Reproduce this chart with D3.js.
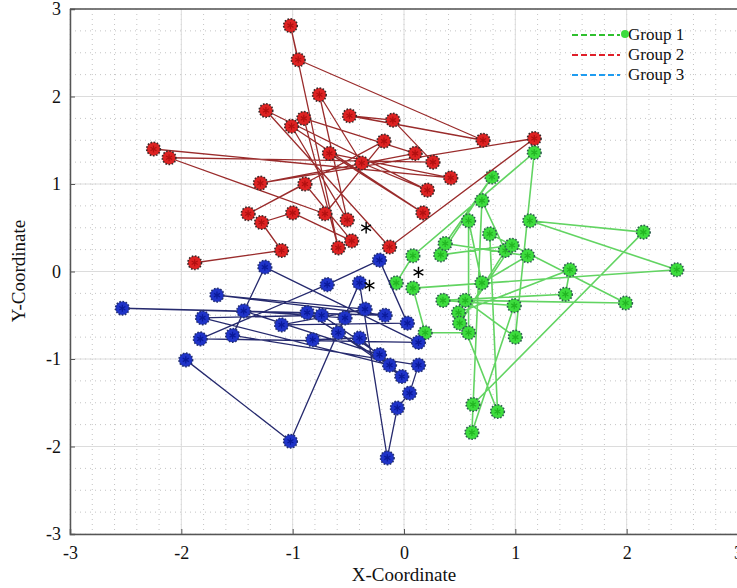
<!DOCTYPE html>
<html>
<head>
<meta charset="utf-8">
<script src="https://cdn.jsdelivr.net/npm/d3@7"></script>
<style>
  body { margin: 0; background: #fff; }
  text { font-family: "Liberation Serif", "Times New Roman", serif; }
</style>
</head>
<body>
<script>
// group 1 (green), in drawing order
var g1X = [-0.07,0.08,1.17,1.00,0.55,1.99,0.77,0.84,0.49,1.49,1.45,0.35,0.99,0.61,0.70,0.91,0.50,0.97,0.33,0.79,0.37,1.11,0.70,0.58,0.58,0.19,0.08,2.45,1.13,2.15,0.62];
var g1Y = [-0.13,0.18,1.36,-0.75,-0.33,-0.36,0.43,-1.60,-0.47,0.02,-0.26,-0.33,-0.39,-1.84,0.81,0.24,-0.59,0.30,0.19,1.08,0.32,0.18,-0.13,0.58,-0.70,-0.70,-0.19,0.02,0.58,0.45,-1.52];
// group 2 (red)
var g2X = [-2.25,0.42,-0.67,0.17,-1.01,-0.51,-0.76,-0.38,0.21,-1.24,-0.13,1.17,-1.29,0.10,-0.90,-0.59,-1.02,-0.95,0.71,-0.49,-0.10,0.26,-2.11,-0.71,-0.18,-1.40,-0.89,-0.47,-1.00,-1.28,-1.10,-1.88];
var g2Y = [1.40,1.07,1.35,0.67,1.66,0.59,2.02,1.24,0.93,1.84,0.28,1.52,1.01,1.35,1.75,0.27,2.81,2.42,1.50,1.78,1.73,1.25,1.30,0.66,1.49,0.66,1.00,0.35,0.67,0.56,0.24,0.10];
// group 3 (blue)
var g3X = [-1.96,-1.02,-0.40,-0.15,-0.06,0.05,0.13,-1.54,-1.25,0.13,-1.83,-0.69,-0.22,0.03,-1.10,-0.35,-1.68,-0.17,-2.53,-0.87,-0.13,-1.81,-0.74,-0.22,-1.44,-0.53,-0.59,-0.02,-0.40,-0.82];
var g3Y = [-1.01,-1.94,-0.13,-2.13,-1.56,-1.39,-1.07,-0.73,0.05,-0.81,-0.77,-0.15,0.13,-0.59,-0.61,-0.43,-0.27,-0.50,-0.42,-0.47,-1.07,-0.53,-0.50,-0.95,-0.45,-0.53,-0.70,-1.20,-0.76,-0.78];
// centres (black stars)
var centerX = [-0.34,-0.31,0.13];
var centerY = [0.50,-0.16,-0.01];

var xTicks = [-3,-2,-1,0,1,2,3];
var yTicks = [-3,-2,-1,0,1,2,3];
var legendLabels = ["Group 1","Group 2","Group 3"];

var w = 737, h = 588;
var plotL = 70, plotR = 738, plotT = 9, plotB = 534;

var svg = d3.select("body").append("svg")
  .attr("width", w).attr("height", h);

var x = d3.scaleLinear().domain([-3,3]).range([plotL,plotR]);
var y = d3.scaleLinear().domain([-3,3]).range([plotB,plotT]);

// minor grid (dotted)
var minorX = d3.range(-3, 3.001, 0.2);
var minorY = d3.range(-3, 3.001, 0.25);
svg.append("g").selectAll("line").data(minorX).enter().append("line")
  .attr("x1", d => x(d)).attr("x2", d => x(d))
  .attr("y1", plotT).attr("y2", plotB)
  .attr("stroke", "#c4c4c4").attr("stroke-width", 1)
  .attr("stroke-dasharray", "1,4");
svg.append("g").selectAll("line").data(minorY).enter().append("line")
  .attr("y1", d => y(d)).attr("y2", d => y(d))
  .attr("x1", plotL).attr("x2", plotR)
  .attr("stroke", "#c4c4c4").attr("stroke-width", 1)
  .attr("stroke-dasharray", "1,4");

// major grid
svg.append("g").selectAll("line").data(xTicks).enter().append("line")
  .attr("x1", d => x(d)).attr("x2", d => x(d))
  .attr("y1", plotT).attr("y2", plotB)
  .attr("stroke", "#dcdcdc");
svg.append("g").selectAll("line").data(yTicks).enter().append("line")
  .attr("y1", d => y(d)).attr("y2", d => y(d))
  .attr("x1", plotL).attr("x2", plotR)
  .attr("stroke", "#dcdcdc");

// axes
var fmt = function(d){ return String(d); };
var xAxis = d3.axisBottom(x).tickValues(xTicks).tickSize(-5).tickPadding(12).tickFormat(fmt);
var yAxis = d3.axisLeft(y).tickValues(yTicks).tickSize(-5).tickPadding(9).tickFormat(fmt);

var gx = svg.append("g").attr("transform", "translate(0," + plotB + ")").call(xAxis);
var gy = svg.append("g").attr("transform", "translate(" + plotL + ",0)").call(yAxis);
[gx, gy].forEach(function(g){
  g.select(".domain").attr("stroke", "#555").attr("stroke-width", 1.5);
  g.selectAll(".tick line").attr("stroke", "#555");
  g.selectAll(".tick text").attr("fill", "#111").style("font-size", "18px")
    .style("font-family", "'Liberation Serif', serif");
});

svg.append("line").attr("x1", plotL).attr("x2", plotR).attr("y1", plotT).attr("y2", plotT)
  .attr("stroke", "#555").attr("stroke-width", 1.5);

svg.append("text").attr("x", 404).attr("y", 581).attr("text-anchor", "middle")
  .style("font-size", "19px").attr("fill", "#111").text("X-Coordinate");
svg.append("text").attr("transform", "translate(25,271) rotate(-90)").attr("text-anchor", "middle")
  .style("font-size", "19px").attr("fill", "#111").text("Y-Coordinate");

var groups = [
  {xs: g1X, ys: g1Y, line: "#62d462", fill: "#3ddc3d", ring: "#2f5f50", core: "#22b422", lw: 1.6},
  {xs: g2X, ys: g2Y, line: "#9a2c2c", fill: "#dd2222", ring: "#3a2a2a", core: "#b01010", lw: 1.3},
  {xs: g3X, ys: g3Y, line: "#262a6e", fill: "#1f33c8", ring: "#24306e", core: "#0a1a9a", lw: 1.3}
];

var lineGen = d3.line().x(d => x(d[0])).y(d => y(d[1]));

groups.forEach(function(g){
  var pts = g.xs.map(function(v,i){ return [v, g.ys[i]]; });
  var layer = svg.append("g");
  layer.append("path").datum(pts)
    .attr("d", lineGen).attr("fill", "none")
    .attr("stroke", g.line).attr("stroke-width", g.lw).attr("stroke-linejoin", "round");
  var m = layer.selectAll("g.mk").data(pts).enter().append("g")
    .attr("transform", d => "translate(" + x(d[0]) + "," + y(d[1]) + ")");
  m.append("circle").attr("r", 6.8)
    .attr("fill", g.fill).attr("stroke", g.ring).attr("stroke-width", 1.6)
    .attr("stroke-dasharray", "1.6,1.6");
  m.append("path").attr("d", d3.symbol(d3.symbolAsterisk).size(34)())
    .attr("stroke", g.core).attr("stroke-width", 1.2).attr("fill", "none");
});

// centres
svg.append("g").selectAll("path").data(centerX).enter().append("path")
  .attr("transform", (d,i) => "translate(" + x(d) + "," + y(centerY[i]) + ")")
  .attr("d", d3.symbol(d3.symbolAsterisk).size(90)())
  .attr("stroke", "#000").attr("stroke-width", 1.4).attr("fill", "none");

// legend
var legendColors = ["#2fc02f", "#e0202a", "#1e9cf0"];
var lg = svg.append("g");
legendLabels.forEach(function(lab, i){
  var ly = 35 + i * 20;
  lg.append("line").attr("x1", 572).attr("x2", 620).attr("y1", ly).attr("y2", ly)
    .attr("stroke", legendColors[i]).attr("stroke-width", 2).attr("stroke-dasharray", "6,3");
  lg.append("text").attr("x", 628).attr("y", ly + 5).style("font-size", "17px")
    .attr("fill", "#111").text(lab);
});
lg.append("circle").attr("cx", 625).attr("cy", 34).attr("r", 4).attr("fill", "#3ddc3d");
</script>
</body>
</html>
